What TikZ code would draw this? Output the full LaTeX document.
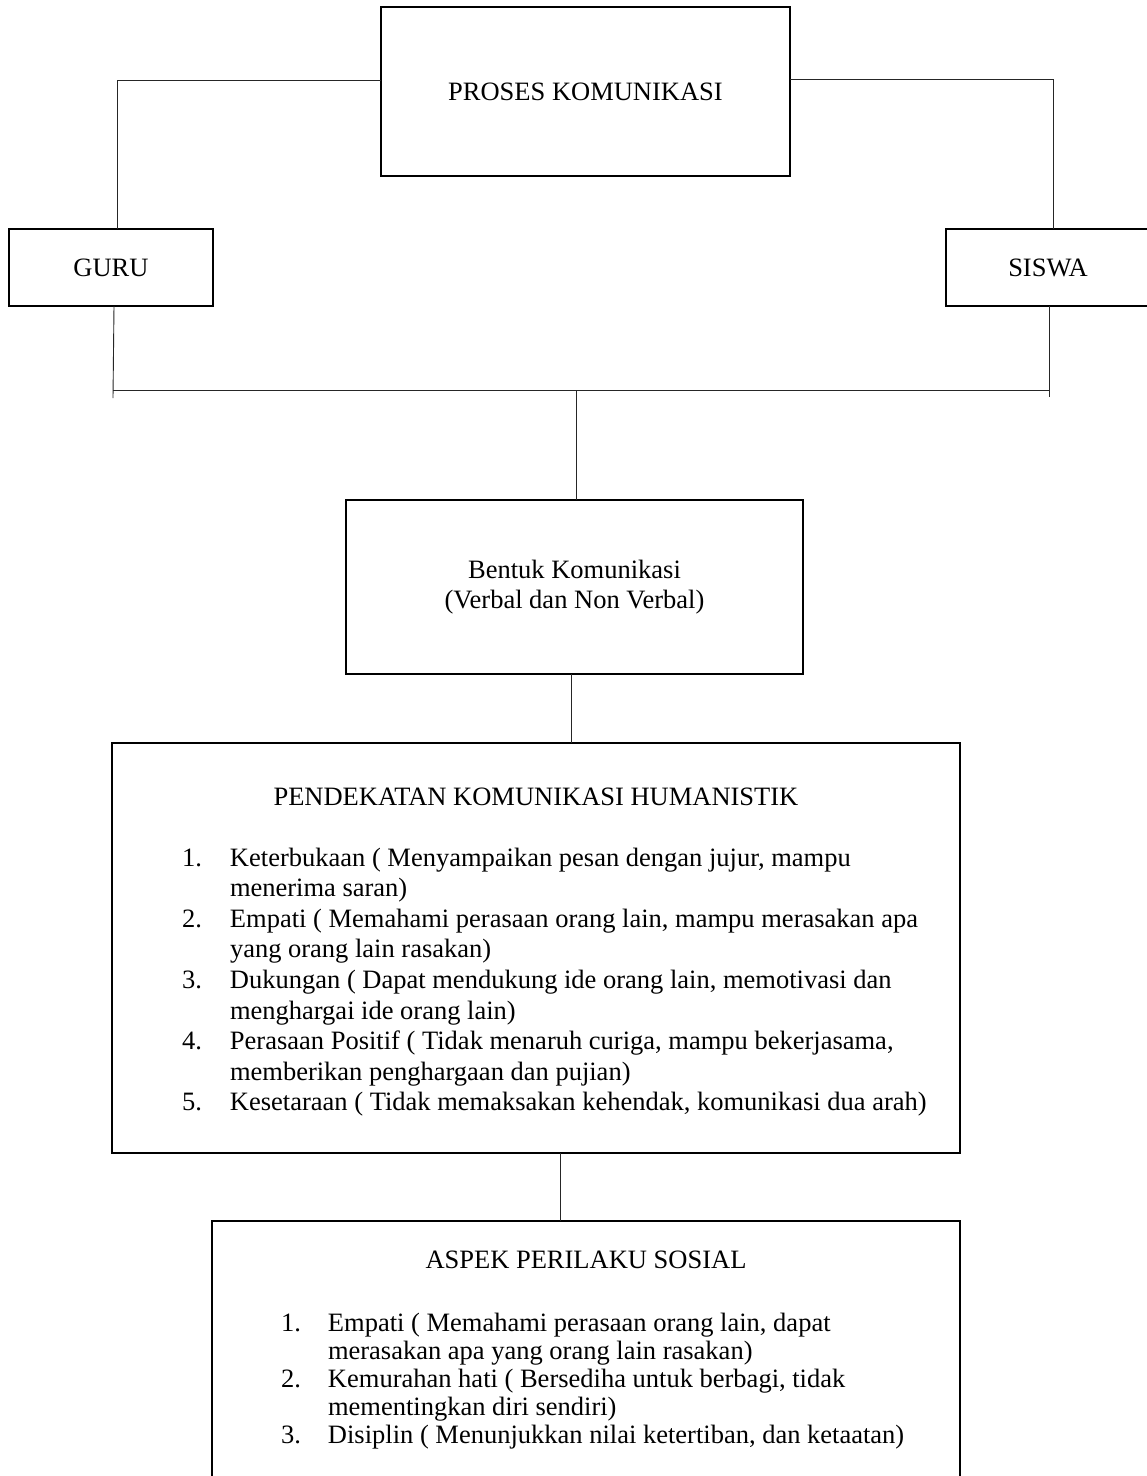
\documentclass[tikz,border=0pt]{standalone}
\usepackage{fontspec}
\setmainfont{Liberation Serif}
\begin{document}
\begin{tikzpicture}[x=1pt,y=-1pt,
  every node/.style={font=\fontsize{26.5}{30.6}\selectfont},
  box/.style={draw=black,line width=1.6pt,inner sep=0pt,outer sep=0pt},
  conn/.style={draw=black!85,line width=0.9pt},
  txt/.style={inner sep=0pt,outer sep=0pt}]
\useasboundingbox[fill=white] (0,0) rectangle (1147,1476);

% boxes
\node[box,minimum width=409pt,minimum height=169pt] (proses) at (585.5,91.5) {PROSES KOMUNIKASI};
\node[box,minimum width=204pt,minimum height=77pt] (guru) at (111,267.5) {GURU};
\node[box,minimum width=204pt,minimum height=77pt] (siswa) at (1048,267.5) {SISWA};
\node[box,minimum width=457pt,minimum height=174pt,align=center] (bentuk) at (574.5,587) {Bentuk Komunikasi\\(Verbal dan Non Verbal)};
\node[box,minimum width=848pt,minimum height=410pt] (pend) at (536,948) {};
\node[box,minimum width=748pt,minimum height=290pt] (aspek) at (586,1366) {};

% texts inside the large boxes
\node[txt] (ptitle) at (536,797) {PENDEKATAN KOMUNIKASI HUMANISTIK};
\node[txt,anchor=base west] (plist) at (182,866) {%
\begin{tabular}[t]{@{}p{48pt}@{}l@{}}
1. & Keterbukaan ( Menyampaikan pesan dengan jujur, mampu\\
   & menerima saran)\\
2. & Empati ( Memahami perasaan orang lain, mampu merasakan apa\\
   & yang orang lain rasakan)\\
3. & Dukungan ( Dapat mendukung ide orang lain, memotivasi dan\\
   & menghargai ide orang lain)\\
4. & Perasaan Positif ( Tidak menaruh curiga, mampu bekerjasama,\\
   & memberikan penghargaan dan pujian)\\
5. & Kesetaraan ( Tidak memaksakan kehendak, komunikasi dua arah)
\end{tabular}};

\node[txt] (atitle) at (586,1260) {ASPEK PERILAKU SOSIAL};
\node[txt,anchor=base west,font=\fontsize{26.5}{28}\selectfont] (alist) at (281,1331) {%
\begin{tabular}[t]{@{}p{47pt}@{}l@{}}
1. & Empati ( Memahami perasaan orang lain, dapat\\
   & merasakan apa yang orang lain rasakan)\\
2. & Kemurahan hati ( Bersediha untuk berbagi, tidak\\
   & mementingkan diri sendiri)\\
3. & Disiplin ( Menunjukkan nilai ketertiban, dan ketaatan)
\end{tabular}};

% connectors
\draw[conn] ([xshift=6pt]guru.north) |- ([yshift=11.5pt]proses.west);
\draw[conn] ([yshift=12.5pt]proses.east) -| ([xshift=5pt]siswa.north);
\coordinate (jl) at (113,390);
\coordinate (jr) at (1049,390);
\coordinate (jm) at (576,390);
\coordinate (jlb) at (113,398);
\coordinate (jrb) at (1049,397);
\draw[conn] ([xshift=3pt]guru.south) -- (jlb);
\draw[conn] ([xshift=1pt]siswa.south) -- (jrb);
\draw[conn] (jl) -- (jr);
\draw[conn] (jm) -- (jm |- bentuk.north);
\coordinate (b1) at ([xshift=-3.5pt]bentuk.south);
\draw[conn] (b1) -- (b1 |- pend.north);
\coordinate (p1) at ([xshift=24pt]pend.south);
\draw[conn] (p1) -- (p1 |- aspek.north);
\end{tikzpicture}
\end{document}
